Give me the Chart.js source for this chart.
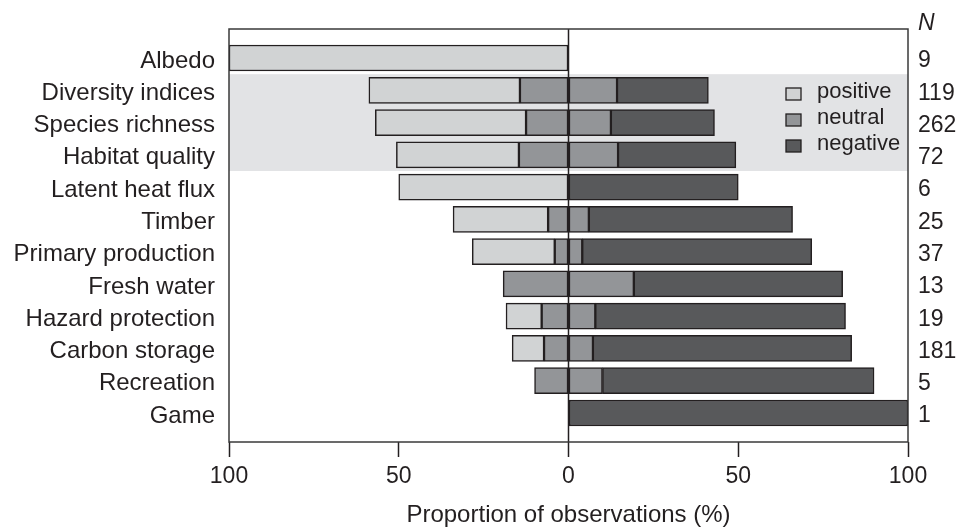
<!DOCTYPE html>
<html>
<head>
<meta charset="utf-8">
<script src="https://cdn.jsdelivr.net/npm/chart.js@4"></script>
<style>
  html, body { margin: 0; padding: 0; background: #fff; }
  #wrap { width: 960px; height: 528px; }
</style>
</head>
<body>
<div id="wrap"><canvas id="myChart" width="960" height="528"></canvas></div>
<script>
// values (% of observations)
const categories = ["Albedo", "Diversity indices", "Species richness", "Habitat quality",
  "Latent heat flux", "Timber", "Primary production", "Fresh water", "Hazard protection",
  "Carbon storage", "Recreation", "Game"];
const nObs = [9, 119, 262, 72, 6, 25, 37, 13, 19, 181, 5, 1];
const positive = [100, 44.5, 44.4, 36.1, 50, 28, 24.3, 0, 10.5, 9.4, 0, 0];
const neutral = [0, 28.6, 25, 29.2, 0, 12, 8.1, 38.5, 15.8, 14.4, 20, 0];
const negative = [0, 26.9, 30.5, 34.7, 50, 60, 67.6, 61.5, 73.7, 76.2, 80, 100];
const xTicks = [-100, -50, 0, 50, 100];
const shadedRows = [1, 3]; // Diversity indices .. Habitat quality

const INK = "#231f20";
const FONT = '"Liberation Sans", Arial, Helvetica, sans-serif';
const colors = { positive: "#d1d3d4", neutral: "#939598", negative: "#58595b", band: "#e2e3e5" };

Chart.defaults.font.family = FONT;
Chart.defaults.color = INK;

function rows(values, sign) {
  return values.map((v, i) => ({ x: v ? sign * v : null, y: i }));
}

function seg(label, data, color) {
  return {
    label: label, data: data, stack: "s",
    backgroundColor: color, borderColor: INK, borderWidth: 1.5,
    borderSkipped: false, barThickness: 26
  };
}

const datasets = [
  seg("neutral", rows(neutral.map(v => v / 2), -1), colors.neutral),
  seg("positive", rows(positive, -1), colors.positive),
  seg("neutral", rows(neutral.map(v => v / 2), 1), colors.neutral),
  seg("negative", rows(negative, 1), colors.negative)
];

const rowTicks = s => { s.ticks = categories.map((c, i) => ({ value: i })); };

const extras = {
  id: "extras",
  beforeDraw(chart) {
    const { ctx, chartArea: a, scales } = chart;
    const y0 = scales.y.getPixelForValue(shadedRows[0] - 0.5);
    const y1 = scales.y.getPixelForValue(shadedRows[1] + 0.5);
    ctx.save();
    ctx.fillStyle = colors.band;
    ctx.fillRect(a.left, y0, a.right - a.left, y1 - y0);
    ctx.restore();
  },
  afterDatasetsDraw(chart) {
    const { ctx, chartArea: a, scales } = chart;
    ctx.save();
    // zero line
    const x0 = scales.x.getPixelForValue(0);
    ctx.strokeStyle = INK;
    ctx.lineWidth = 1.5;
    ctx.beginPath();
    ctx.moveTo(x0, a.top);
    ctx.lineTo(x0, a.bottom);
    ctx.stroke();
    // frame
    ctx.strokeStyle = "#3a3a3a";
    ctx.strokeRect(a.left, a.top, a.right - a.left, a.bottom - a.top);

    // legend
    const items = [["positive", colors.positive], ["neutral", colors.neutral], ["negative", colors.negative]];
    const ys = [94, 120, 146];
    ctx.font = "22px " + FONT;
    ctx.textBaseline = "alphabetic";
    ctx.textAlign = "left";
    items.forEach((it, i) => {
      ctx.fillStyle = it[1];
      ctx.fillRect(786, ys[i] - 6, 15, 12);
      ctx.strokeStyle = INK;
      ctx.lineWidth = 1.3;
      ctx.strokeRect(786, ys[i] - 6, 15, 12);
      ctx.fillStyle = INK;
      ctx.fillText(it[0], 817, ys[i] + 4);
    });

    // N header
    ctx.font = "italic 23px " + FONT;
    ctx.fillText("N", 918, 30);
    ctx.restore();
  }
};

const ctx = document.getElementById("myChart").getContext("2d");
new Chart(ctx, {
  type: "bar",
  data: { datasets: datasets },
  options: {
    indexAxis: "y",
    responsive: false,
    animation: false,
    devicePixelRatio: 1,
    layout: { padding: { top: 29, left: 0, right: 0, bottom: 0 } },
    plugins: { legend: { display: false }, tooltip: { enabled: false } },
    scales: {
      x: {
        type: "linear", min: -100, max: 100, stacked: true,
        afterBuildTicks: s => { s.ticks = xTicks.map(v => ({ value: v })); },
        ticks: { callback: v => Math.abs(v), font: { size: 23 }, color: INK, padding: 6 },
        grid: { drawOnChartArea: false, tickLength: 15, tickColor: INK, tickWidth: 1.5 },
        border: { display: false },
        title: { display: true, text: "Proportion of observations (%)", font: { size: 24 }, color: INK, padding: { top: 13, bottom: -2 } },
        afterFit: s => { s.height = 86; }
      },
      y: {
        type: "linear", position: "left", min: -0.9, max: 11.9, reverse: true, offset: false,
        afterBuildTicks: rowTicks,
        ticks: { callback: v => categories[v], autoSkip: false, font: { size: 24 }, color: INK, padding: 6, labelOffset: 3 },
        grid: { display: false }, border: { display: false },
        afterFit: s => { s.width = 229; }
      },
      y2: {
        type: "linear", position: "right", min: -0.9, max: 11.9, reverse: true, offset: false,
        afterBuildTicks: rowTicks,
        ticks: { callback: v => nObs[v], autoSkip: false, font: { size: 23 }, color: INK, padding: 2, labelOffset: 3 },
        grid: { display: false }, border: { display: false },
        afterFit: s => { s.width = 52; }
      }
    }
  },
  plugins: [extras]
});
</script>
</body>
</html>
